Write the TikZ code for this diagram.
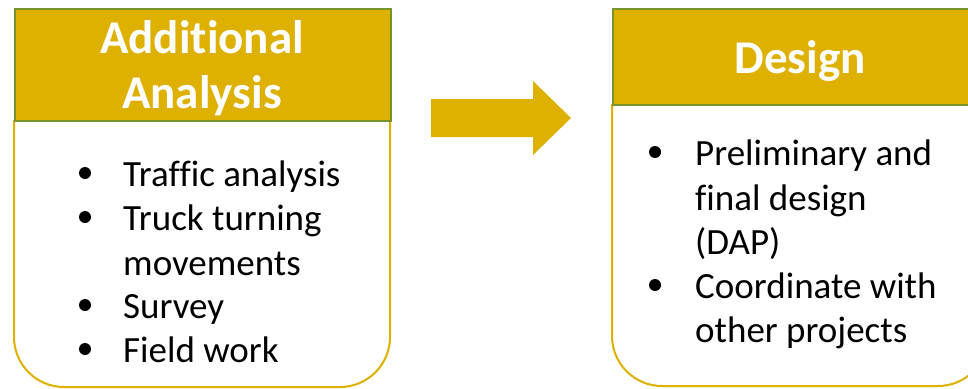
\documentclass[tikz,border=0pt]{standalone}
\usepackage{fontspec}
\setmainfont[RawFeature={-liga;-clig;-calt;-dlig}]{Carlito}
\definecolor{gold}{RGB}{222,176,0}
\definecolor{olive}{RGB}{118,148,40}
\begin{document}
\begin{tikzpicture}[x=1pt,y=-1pt,
  head/.style={draw=olive,fill=gold,line width=2pt},
  bodybox/.style={draw=gold,line width=2pt,rounded corners=50pt},
  htext/.style={text=white,font=\fontsize{47}{56}\selectfont\bfseries,anchor=base,inner sep=0pt},
  btext/.style={font=\fontsize{37}{44}\selectfont,anchor=base west,inner sep=0pt},
  bul/.style={fill=black,circle,inner sep=0pt,minimum size=12pt}]
\useasboundingbox (0,0) rectangle (968,388);
\begin{scope}
\clip (0,0) rectangle (968,388);
% left box
\draw[bodybox] (14,120) -- (14,387) -- (390,387) -- (390,120);
\node[head,rectangle,minimum width=376pt,minimum height=112pt,anchor=north west,inner sep=0pt] (lh) at (14,8) {};
\node[htext] (lt1) at (202,53) {Additional};
\node[htext] (lt2) at (202,108) {Analysis};
\node[bul] (lb1) at (85,173) {};
\node[btext] (l1) at (123,186) {Traffic analysis};
\node[bul] (lb2) at (85,217) {};
\node[btext] (l2) at (123,230) {Truck turning};
\node[btext] (l3) at (123,275) {movements};
\node[bul] (lb3) at (85,305) {};
\node[btext] (l4) at (123,318) {Survey};
\node[bul] (lb4) at (85,349) {};
\node[btext] (l5) at (123,362) {Field work};
% right box
\draw[bodybox] (612,104) -- (612,386) -- (988,386) -- (988,104);
\node[head,rectangle,minimum width=376pt,minimum height=96pt,anchor=north west,inner sep=0pt] (rh) at (612,8) {};
\node[htext] (rt1) at (800,73) {Design};
\node[bul] (rb1) at (655,152) {};
\node[btext] (r1) at (695,165) {Preliminary and};
\node[btext] (r2) at (695,210) {final design};
\node[btext] (r3) at (695,254) {(DAP)};
\node[bul] (rb2) at (655,285) {};
\node[btext] (r4) at (695,298) {Coordinate with};
\node[btext] (r5) at (695,342) {other projects};
\end{scope}
% arrow
\fill[gold] (431,99) -- (533,99) -- (533,81) -- (571,118) -- (533,155) -- (533,137) -- (431,137) -- cycle;
\end{tikzpicture}
\end{document}
